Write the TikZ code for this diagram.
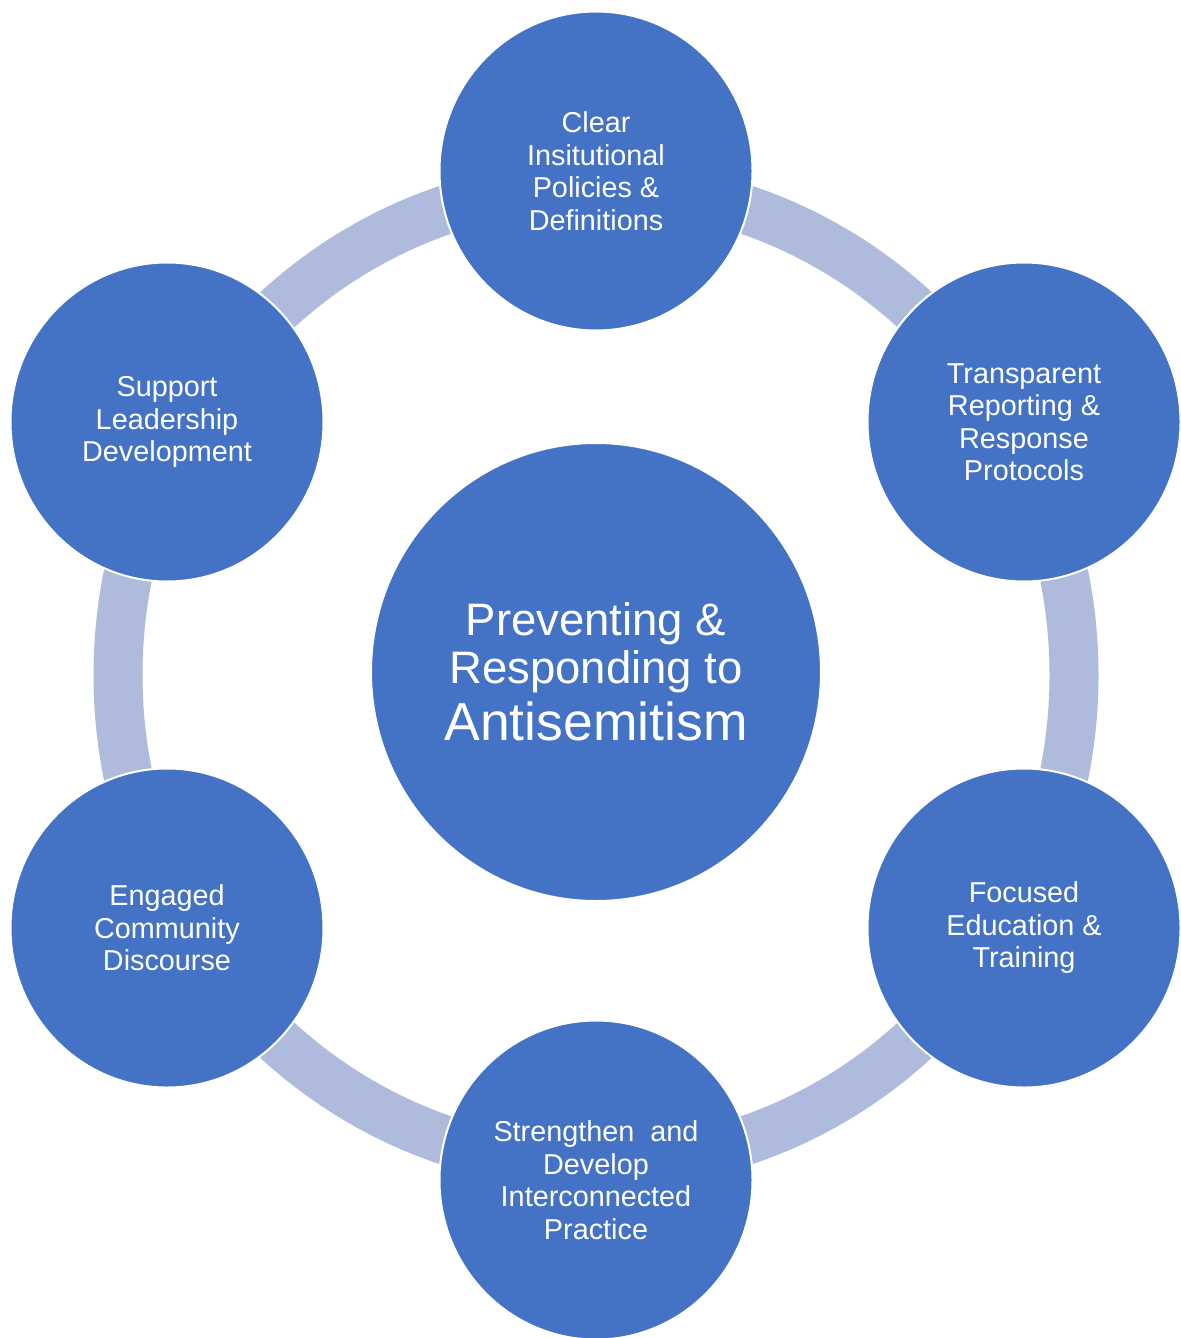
\documentclass[tikz,border=0pt]{standalone}
\usepackage{fontspec}
\setmainfont{Liberation Sans}
\usetikzlibrary{shapes.geometric}
\definecolor{cblue}{HTML}{4472C4}
\definecolor{ringc}{HTML}{AFBBDD}
\begin{document}
\begin{tikzpicture}[x=0.5pt,y=-0.5pt,
  outer/.style={ellipse, fill=cblue, draw=white, line width=1pt,
    minimum width=156.5pt, minimum height=159.5pt, inner sep=0pt,
    text=white, align=center, font=\fontsize{14.4}{16.25}\selectfont},
  hub/.style={ellipse, fill=cblue, draw=white, line width=1pt,
    minimum width=225pt, minimum height=229pt, inner sep=0pt,
    text=white, align=center, font=\fontsize{22.75}{24}\selectfont}]
\useasboundingbox (0,0) rectangle (1180,1338);
\fill[white] (0,0) rectangle (1180,1338);
\coordinate (c) at (596,675);
\draw[ringc, line width=24.5pt] (c) ellipse [x radius=239pt, y radius=245pt];
\node[hub] (hub) at (596,672) {Preventing \&\\Responding to\\[3.5pt]\fontsize{26.75}{24}\selectfont Antisemitism};
\node[outer] (top) at (596,171) {Clear\\Insitutional\\Policies \&\\Definitions};
\node[outer] (rtop) at (1024,422) {Transparent\\Reporting \&\\Response\\Protocols};
\node[outer] (rbot) at (1024,928) {Focused\\Education \&\\Training};
\node[outer] (bot) at (596,1180) {Strengthen\ \ and\\Develop\\Interconnected\\Practice};
\node[outer] (lbot) at (167,928) {Engaged\\Community\\Discourse};
\node[outer] (ltop) at (167,422) {Support\\Leadership\\Development};
\end{tikzpicture}
\end{document}
